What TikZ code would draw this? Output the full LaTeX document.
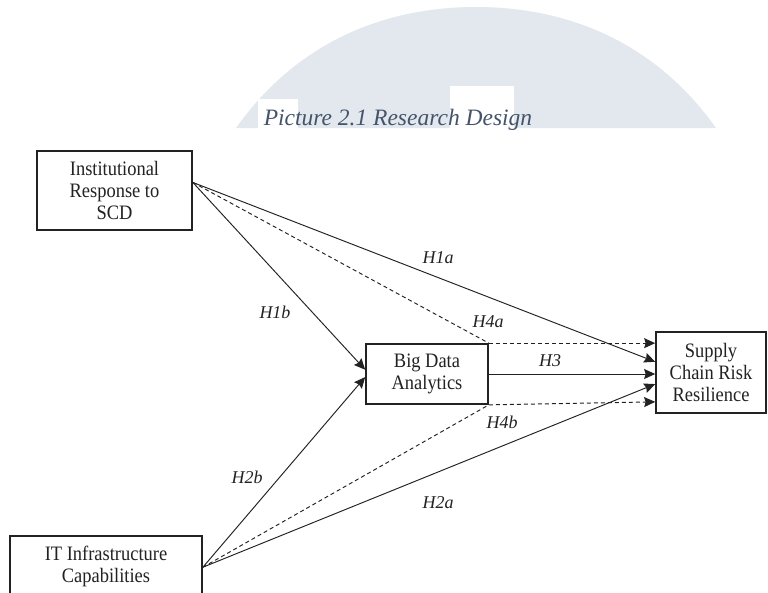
\documentclass[tikz,border=0pt]{standalone}
\usepackage{fontspec}
\setmainfont{Liberation Serif}
\newfontfamily\boxfont[FakeStretch=0.9]{Liberation Serif}
\usetikzlibrary{arrows.meta,calc}
\definecolor{archgray}{RGB}{227,232,239}
\definecolor{capblue}{RGB}{68,84,106}
\definecolor{ink}{RGB}{34,34,34}
\begin{document}
\begin{tikzpicture}[x=1pt,y=-1pt,
  var/.style={draw=ink, line width=1.7pt, align=center, inner sep=0pt, text=ink,
              font=\boxfont\fontsize{20.5}{22}\selectfont},
  hyp/.style={inner sep=0pt, text=ink, font=\itshape\fontsize{18}{18}\selectfont},
  link/.style={draw=ink, line width=0.95pt, -{Stealth[length=11pt,width=10pt,inset=1.5pt]}},
  mediated/.style={link, dash pattern=on 4pt off 3pt},
  dashline/.style={draw=ink, line width=0.95pt, dash pattern=on 4pt off 3pt}]
\useasboundingbox (0,0) rectangle (768,592);
\clip (0,0) rectangle (768,592);
\fill[white] (0,0) rectangle (768,592);

% faint watermark arch behind the caption
\fill[archgray] (236,128) .. controls (300,38) and (390,7) .. (476,7)
                .. controls (562,7) and (652,38) .. (716,128) -- cycle;
\fill[white] (258,99) rectangle (298,129);
\fill[white] (450,86) rectangle (514,129);

\node[text=capblue, inner sep=0pt, anchor=base, font=\itshape\fontsize{23.5}{24}\selectfont]
  (caption) at (398,125) {Picture 2.1 Research Design};

% constructs
\node[var, minimum width=155, minimum height=79] (irs) at (114.5,190.5)
  {Institutional\\Response to\\SCD};
\node[var, minimum width=122, minimum height=60] (bda) at (427,374)
  {Big Data\\Analytics};
\node[var, minimum width=110, minimum height=81] (scrr) at (711,372.5)
  {Supply\\Chain Risk\\Resilience};
\node[var, minimum width=192, minimum height=60] (itc) at (106,566)
  {IT Infrastructure\\Capabilities};

% attachment points on the box sides
\coordinate (irsOut) at ($(irs.north east)!0.40!(irs.south east)$);
\coordinate (itcOut) at ($(itc.north east)!0.52!(itc.south east)$);
\coordinate (bdaInA) at ($(bda.north west)!0.43!(bda.south west)$);
\coordinate (bdaInB) at ($(bda.north west)!0.55!(bda.south west)$);
\coordinate (scrrInA) at ($(scrr.north west)!0.37!(scrr.south west)$);
\coordinate (scrrInB) at ($(scrr.north west)!0.64!(scrr.south west)$);

% direct effects
\draw[link] (irsOut) -- (scrrInA);
\draw[link] (irsOut) -- (bdaInA);
\draw[link] (itcOut) -- (bdaInB);
\draw[link] (itcOut) -- (scrrInB);
\draw[link] (bda.east) -- (scrr.west |- bda.east);

% mediated paths through big data analytics
\draw[dashline] (irsOut) -- (bda.north east);
\draw[mediated] (bda.north east) -- (scrr.west |- bda.north east);
\draw[dashline] (itcOut) -- (bda.south east);
\draw[mediated] (bda.south east) -- ($(scrr.west |- bda.south east)+(0,-3)$);

% hypothesis labels
\node[hyp] (h1a) at (438,258) {H1a};
\node[hyp] (h1b) at (275,312) {H1b};
\node[hyp] (h4a) at (488,322) {H4a};
\node[hyp] (h3)  at (550,361) {H3};
\node[hyp] (h4b) at (502,422) {H4b};
\node[hyp] (h2b) at (247,477) {H2b};
\node[hyp] (h2a) at (438,503) {H2a};
\end{tikzpicture}
\end{document}
